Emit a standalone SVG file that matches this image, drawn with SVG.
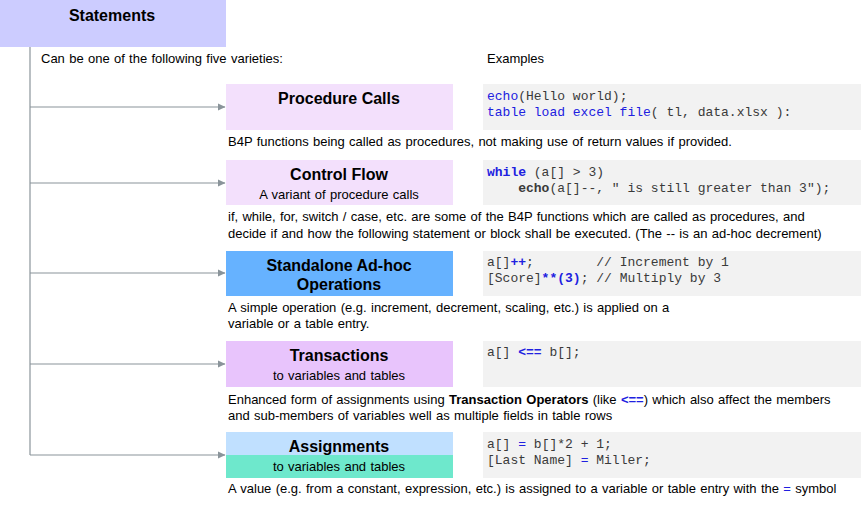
<svg xmlns="http://www.w3.org/2000/svg" width="861" height="506" viewBox="0 0 861 506">
<style>
  .t{font-family:"Liberation Sans",Arial,sans-serif;font-size:13px;fill:#000;word-spacing:0.7px}
  .h{font-family:"Liberation Sans",Arial,sans-serif;font-size:16px;font-weight:bold;fill:#000;text-anchor:middle}
  .s{font-family:"Liberation Sans",Arial,sans-serif;font-size:13px;fill:#000;text-anchor:middle;word-spacing:0.7px}
  .c{font-family:"Liberation Mono","Courier New",monospace;font-size:13px;fill:#3a3a3a}
  .k{fill:#2020e0}
  .kb{fill:#2020e0;font-weight:bold}
  .b{font-weight:bold}
  .code{fill:#f2f2f2}
  .conn{stroke:#8a949a;stroke-width:1.2;fill:none}
</style>
<defs>
  <marker id="arr" markerWidth="8" markerHeight="8" refX="7" refY="4" orient="auto" markerUnits="userSpaceOnUse">
    <path d="M0,0.5 L7.5,4 L0,7.5 Z" fill="#8a949a"/>
  </marker>
</defs>
<rect width="861" height="506" fill="#fff"/>

<g id="connectors">
  <path class="conn" d="M30,47 V455"/>
  <path class="conn" d="M30,107 H225" marker-end="url(#arr)"/>
  <path class="conn" d="M30,183 H225" marker-end="url(#arr)"/>
  <path class="conn" d="M30,273 H225" marker-end="url(#arr)"/>
  <path class="conn" d="M30,364 H225" marker-end="url(#arr)"/>
  <path class="conn" d="M30,455 H225" marker-end="url(#arr)"/>
</g>

<g id="statements">
  <rect x="0" y="0" width="226" height="47" fill="#ccccff"/>
  <text class="h" x="112" y="21">Statements</text>
  <text class="t" x="41" y="63">Can be one of the following five varieties:</text>
  <text class="t" x="487" y="63">Examples</text>
</g>

<g id="procedure-calls">
  <rect x="226" y="84" width="227" height="46" fill="#f3e0fc"/>
  <text class="h" x="339" y="104">Procedure Calls</text>
  <rect class="code" x="483" y="84" width="378" height="46"/>
  <text class="c" x="487" y="100" xml:space="preserve"><tspan class="k">echo</tspan>(Hello world);</text>
  <text class="c" x="487" y="116" xml:space="preserve"><tspan class="k">table load excel file</tspan>( tl, data.xlsx ):</text>
  <text class="t" x="228" y="146">B4P functions being called as procedures, not making use of return values if provided.</text>
</g>

<g id="control-flow">
  <rect x="226" y="160" width="227" height="45" fill="#f3e0fc"/>
  <text class="h" x="339" y="180">Control Flow</text>
  <text class="s" x="339" y="199">A variant of procedure calls</text>
  <rect class="code" x="483" y="160" width="378" height="45"/>
  <text class="c" x="487" y="176" xml:space="preserve"><tspan class="kb">while</tspan> (a[] &gt; 3)</text>
  <text class="c" x="487" y="192" xml:space="preserve">    <tspan class="b">echo</tspan>(a[]--, " is still greater than 3");</text>
  <text class="t" x="228" y="221">if, while, for, switch / case, etc. are some of the B4P functions which are called as procedures, and</text>
  <text class="t" x="228" y="238">decide if and how the following statement or block shall be executed. (The -- is an ad-hoc decrement)</text>
</g>

<g id="standalone-operations">
  <rect x="226" y="251" width="227" height="45" fill="#66b2ff"/>
  <text class="h" x="339" y="271">Standalone Ad-hoc</text>
  <text class="h" x="339" y="290">Operations</text>
  <rect class="code" x="483" y="251" width="378" height="45"/>
  <text class="c" x="487" y="266" xml:space="preserve">a[]<tspan class="kb">++</tspan>;        // Increment by 1</text>
  <text class="c" x="487" y="282" xml:space="preserve">[Score]<tspan class="kb">**(3)</tspan>; // Multiply by 3</text>
  <text class="t" x="228" y="312">A simple operation (e.g. increment, decrement, scaling, etc.) is applied on a</text>
  <text class="t" x="228" y="328">variable or a table entry.</text>
</g>

<g id="transactions">
  <rect x="226" y="341" width="227" height="46" fill="#e8c4fc"/>
  <text class="h" x="339" y="361">Transactions</text>
  <text class="s" x="339" y="380">to variables and tables</text>
  <rect class="code" x="483" y="341" width="378" height="46"/>
  <text class="c" x="487" y="356" xml:space="preserve">a[] <tspan class="kb">&lt;==</tspan> b[];</text>
  <text class="t" x="228" y="404">Enhanced form of assignments using <tspan class="b">Transaction Operators</tspan> (like <tspan class="kb">&lt;==</tspan>) which also affect the members</text>
  <text class="t" x="228" y="420">and sub-members of variables well as multiple fields in table rows</text>
</g>

<g id="assignments">
  <rect x="226" y="432" width="227" height="23" fill="#c0e0ff"/>
  <rect x="226" y="455" width="227" height="23" fill="#6ee8cc"/>
  <text class="h" x="339" y="452">Assignments</text>
  <text class="s" x="339" y="471">to variables and tables</text>
  <rect class="code" x="483" y="432" width="378" height="46"/>
  <text class="c" x="487" y="448" xml:space="preserve">a[] <tspan class="k">=</tspan> b[]*2 + 1;</text>
  <text class="c" x="487" y="464" xml:space="preserve">[Last Name] <tspan class="k">=</tspan> Miller;</text>
  <text class="t" x="228" y="493">A value (e.g. from a constant, expression, etc.) is assigned to a variable or table entry with the <tspan class="k">=</tspan> symbol</text>
</g>
</svg>
